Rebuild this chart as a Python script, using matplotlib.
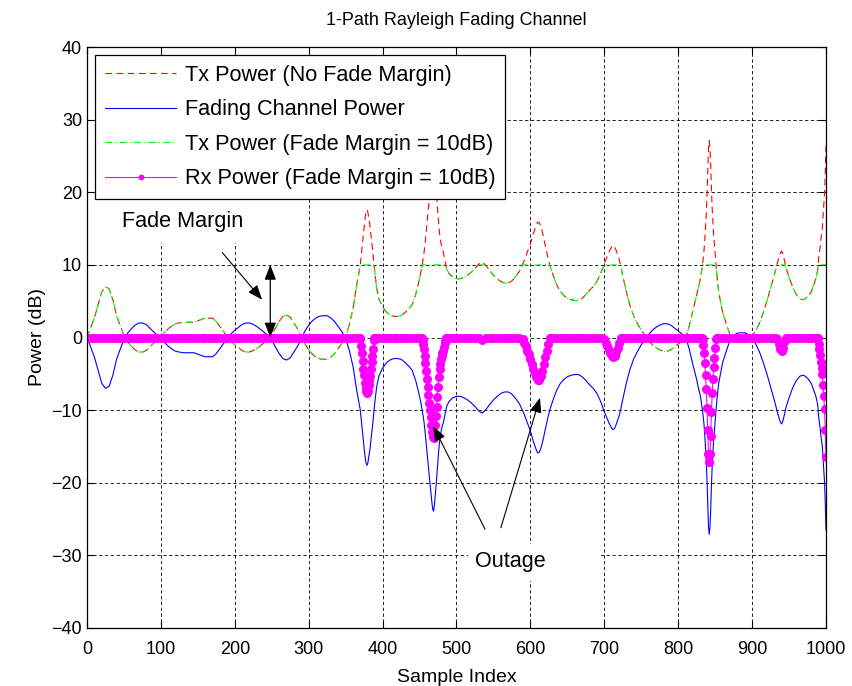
import numpy as np
import matplotlib
matplotlib.use("Agg")
import matplotlib.pyplot as plt
from matplotlib.patches import Rectangle

# ---- data (fading channel power in dB) ----
sample_index = [
    0, 5, 10, 15, 20, 25, 30, 35, 40, 45, 50, 55, 60, 65, 70, 75, 80, 85, 90, 95,
    100, 105, 110, 115, 120, 125, 130, 135, 140, 145, 150, 155, 160, 165, 170, 175,
    180, 185, 190, 195, 200, 205, 210, 215, 220, 225, 230, 235, 240, 245, 250, 255,
    260, 265, 270, 275, 280, 285, 290, 295, 300, 305, 310, 315, 320, 325, 330, 335,
    340, 345, 350, 355, 360, 365,
    368, 369, 370, 371, 372, 373, 374, 375, 376, 377, 378, 379, 380, 381, 382, 383,
    384, 385, 386, 387, 388, 389, 390, 391, 392,
    395, 400, 405, 410, 415, 420, 425, 430, 435, 440, 445, 450,
    451, 452, 453, 454, 455, 456, 457, 458, 459, 460, 461, 462, 463, 464, 465, 466,
    467, 468, 469, 470, 471, 472, 473, 474, 475, 476, 477, 478, 479, 480, 481, 482,
    483, 484, 485, 486, 487,
    490, 495, 500, 505, 510, 515, 520, 525, 530, 535, 540, 545, 550, 555, 560, 565,
    570, 575, 580, 585,
    590, 592, 594, 596, 598, 600, 602, 604, 606, 608, 610, 612, 614, 616, 618, 620,
    622, 624, 626, 628,
    630, 635, 640, 645, 650, 655, 660, 665, 670, 675, 680, 685, 690, 695,
    700, 702, 704, 706, 708, 710, 712, 714, 716, 718, 720, 722,
    725, 730, 735, 740, 745, 750, 755, 760, 765, 770, 775, 780, 785, 790, 795, 800,
    805, 810, 815, 820, 825,
    826, 827, 828, 829, 830, 831, 832, 833, 834, 835, 836, 837, 838, 839, 840, 841,
    842, 843, 844, 845, 846, 847, 848, 849, 850, 851, 852, 853, 854, 855,
    860, 865, 870, 875, 880, 885, 890, 895, 900, 905, 910, 915, 920, 925,
    930, 932, 934, 936, 938, 940, 942, 944, 946,
    950, 955, 960, 965, 970, 975, 980, 985,
    986, 987, 988, 989, 990, 991, 992, 993, 994, 995, 996, 997, 998, 999, 1000,
]
fading_db = [
    0.0, -1.3, -2.7, -4.5, -6.3, -7.0, -6.7, -5.2, -3.0, -1.6, -0.3, 0.6, 1.2, 1.7, 2.0, 2.0, 1.8, 1.3, 0.8, 0.3,
    -0.1, -0.7, -1.2, -1.6, -1.9, -2.0, -2.1, -2.1, -2.1, -2.1, -2.3, -2.5, -2.65, -2.65, -2.65, -2.2,
    -1.5, -0.8, -0.1, 0.5, 1.0, 1.4, 1.8, 2.0, 2.0, 1.8, 1.5, 1.1, 0.7, 0.2, -0.4, -1.3,
    -2.2, -2.9, -3.1, -2.8, -2.0, -1.2, -0.1, 0.9, 1.7, 2.3, 2.7, 2.95, 3.0, 3.0, 2.7, 2.2,
    1.5, 0.8, -0.1, -1.8, -4.0, -7.3,
    -8.9, -9.5, -10.2, -11.2, -12.2, -13.2, -14.3, -15.2, -16.2, -17.0, -17.4, -17.6, -17.3, -16.6, -16.0, -15.3,
    -14.3, -13.4, -12.5, -11.6, -10.4, -9.4, -8.5, -7.6, -6.8,
    -5.3, -4.2, -3.5, -3.1, -2.9, -2.9, -3.0, -3.4, -3.9, -4.5, -6.0, -8.1,
    -8.6, -9.1, -9.7, -10.3, -10.9, -11.6, -12.5, -13.5, -14.6, -15.7, -16.8, -17.9, -19.0, -20.0, -21.0, -22.0,
    -23.0, -23.7, -23.9, -23.2, -22.0, -20.8, -19.6, -18.2, -16.8, -15.5, -14.4, -13.6, -13.0, -12.5, -12.1, -11.8,
    -11.3, -10.8, -10.3, -9.8, -9.4,
    -8.8, -8.3, -8.1, -8.1, -8.3, -8.6, -9.0, -9.5, -10.1, -10.4, -9.9, -9.2, -8.6, -8.1, -7.7, -7.5,
    -7.5, -7.8, -8.4, -9.1,
    -10.2, -10.7, -11.2, -11.8, -12.3, -12.9, -13.6, -14.3, -14.9, -15.5, -15.9, -15.8, -15.3, -14.6, -13.7, -12.7,
    -11.8, -10.9, -10.1, -9.4,
    -8.8, -7.4, -6.4, -5.8, -5.4, -5.2, -5.1, -5.1, -5.4, -5.9, -6.5, -7.0, -7.7, -8.8,
    -10.2, -10.7, -11.2, -11.7, -12.1, -12.5, -12.7, -12.5, -12.0, -11.4, -10.8, -10.0,
    -8.5, -6.2, -4.3, -2.9, -1.9, -1.0, -0.3, 0.4, 1.0, 1.4, 1.7, 1.9, 1.9, 1.7, 1.3, 0.9,
    0.5, 0.1, -1.6, -3.8, -5.8,
    -6.3, -6.8, -7.2, -7.6, -8.1, -8.7, -9.4, -10.2, -11.0, -12.1, -13.5, -15.2, -17.1, -19.7, -22.7, -26.1,
    -27.1, -26.1, -23.6, -20.3, -17.7, -15.7, -14.0, -12.8, -11.4, -10.2, -9.0, -8.0, -7.0, -6.2,
    -3.5, -1.9, -0.4, 0.3, 0.6, 0.65, 0.65, 0.4, -0.2, -0.9, -2.0, -3.4, -5.0, -6.8,
    -8.6, -9.4, -10.2, -10.9, -11.6, -11.9, -11.4, -10.5, -9.6,
    -8.3, -6.9, -5.9, -5.3, -5.2, -5.6, -6.3, -7.7,
    -8.0, -8.4, -8.9, -9.5, -10.9, -11.6, -12.4, -13.4, -14.2, -15.0, -16.6, -18.1, -19.9, -22.7, -26.5,
]
fade_margin_db = 10.0

x = np.array(sample_index, dtype=float)
fading = np.array(fading_db)
tx_no_margin = -fading                                  # channel inversion
tx_margin = np.minimum(tx_no_margin, fade_margin_db)    # capped at the fade margin
rx_margin = fading + tx_margin                          # received power

legend_labels = ["Tx Power (No Fade Margin)", "Fading Channel Power",
                 "Tx Power (Fade Margin = 10dB)", "Rx Power (Fade Margin = 10dB)"]

plt.rcParams['font.family'] = ['Liberation Sans', 'DejaVu Sans']

fig = plt.figure(figsize=(8.53, 6.86), dpi=100)
ax = fig.add_axes([87/853, 1-628/686, 739/853, 581/686])

ax.plot(x, tx_no_margin, color='red', lw=0.8, linestyle=(0, (6, 4)), label=legend_labels[0])
ax.plot(x, fading, color='blue', lw=0.8, label=legend_labels[1])
ax.plot(x, tx_margin, color=(0, 1, 0), lw=0.8, linestyle=(0, (6, 3, 1, 3)), label=legend_labels[2])
ax.plot(x, rx_margin, color=(1, 0, 1), lw=0.8, marker='o', markersize=6.5,
        markeredgewidth=0, label=legend_labels[3])

ax.set_xlim(0, 1000)
ax.set_ylim(-40, 40)
ax.set_xticks(np.arange(0, 1001, 100))
ax.set_yticks(np.arange(-40, 41, 10))
ax.tick_params(direction='in', top=True, right=True, length=5, width=0.8, labelsize=13)
ax.tick_params(axis='x', pad=9)
ax.grid(True, color='black', linestyle=(0, (4, 3)), linewidth=0.6)
for s in ax.spines.values():
    s.set_linewidth(0.9)

ax.set_title("1-Path Rayleigh Fading Channel", fontsize=13, pad=16)
ax.set_xlabel("Sample Index", fontsize=14, labelpad=8)
ax.set_ylabel("Power (dB)", fontsize=14, labelpad=4)

leg = ax.legend(loc='upper left', bbox_to_anchor=(0.011, 0.986), borderaxespad=0,
                fancybox=False, edgecolor='black', framealpha=1, fontsize=15.6,
                handlelength=3.3, handletextpad=0.4, labelspacing=0.62,
                borderpad=0.45, markerscale=0.65)
leg.get_frame().set_linewidth(0.9)

# annotations
ax.text(47, 16, "Fade Margin", fontsize=15.6, va='center', ha='left',
        bbox=dict(boxstyle='square,pad=0.5', fc='white', ec='none'))
ax.annotate("", xy=(237, 5.2), xytext=(183, 11.7),
            arrowprops=dict(arrowstyle='-|>,head_length=0.9,head_width=0.35', color='black', lw=0.8,
                            shrinkA=0, shrinkB=0))
ax.annotate("", xy=(248, 0), xytext=(248, 10),
            arrowprops=dict(arrowstyle='<|-|>,head_length=0.9,head_width=0.35', color='black', lw=0.9,
                            shrinkA=0, shrinkB=0))
ax.add_patch(Rectangle((515, -33.5), 180, 5, facecolor='white', edgecolor='none', zorder=2.5))
ax.text(525, -30.9, "Outage", fontsize=15.6, va='center', ha='left', zorder=3)
ax.annotate("", xy=(468.6, -12.2), xytext=(538.6, -26.4),
            arrowprops=dict(arrowstyle='-|>,head_length=0.9,head_width=0.35', color='black', lw=0.8,
                            shrinkA=0, shrinkB=0))
ax.annotate("", xy=(613, -8.3), xytext=(560, -26.2),
            arrowprops=dict(arrowstyle='-|>,head_length=0.9,head_width=0.35', color='black', lw=0.8,
                            shrinkA=0, shrinkB=0))

fig.savefig("out.png", dpi=100)
